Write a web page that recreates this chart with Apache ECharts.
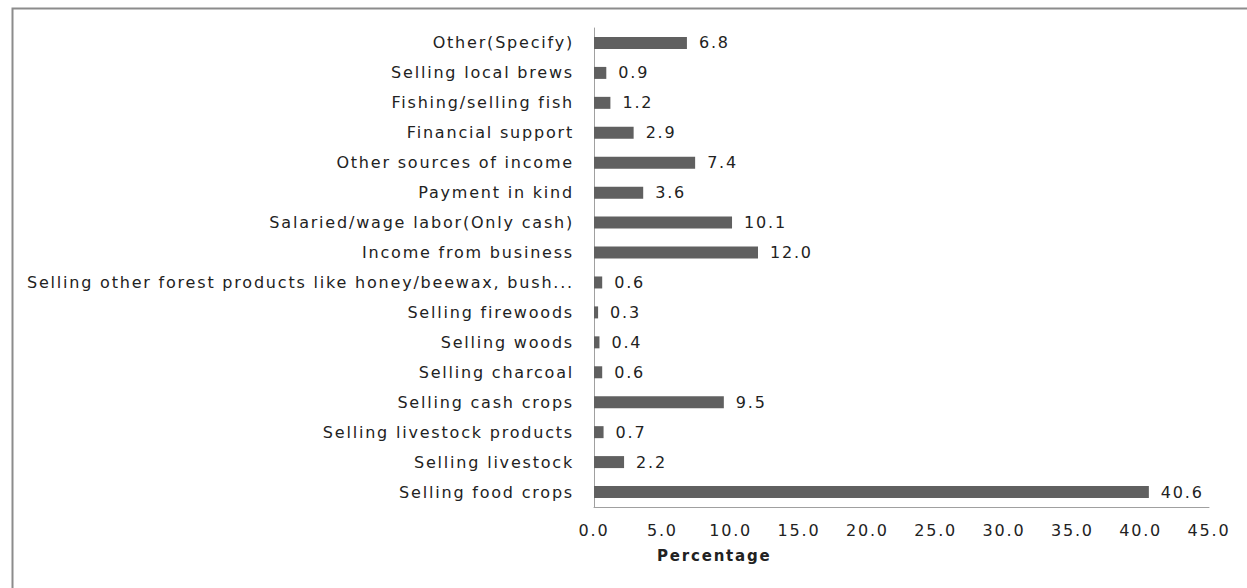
<!DOCTYPE html>
<html>
<head>
<meta charset="utf-8">
<script src="https://cdn.jsdelivr.net/npm/echarts@6/dist/echarts.min.js"></script>
<style>
html,body{margin:0;padding:0;background:#fff;}
#c{width:1247px;height:588px;}
#c text{letter-spacing:1.8px;}
</style>
</head>
<body>
<div id="c"></div>
<script>
const categories = [
  "Selling food crops",
  "Selling livestock",
  "Selling livestock products",
  "Selling cash crops",
  "Selling charcoal",
  "Selling woods",
  "Selling firewoods",
  "Selling other forest products like honey/beewax, bush...",
  "Income from business",
  "Salaried/wage labor(Only cash)",
  "Payment in kind",
  "Other sources of income",
  "Financial support",
  "Fishing/selling fish",
  "Selling local brews",
  "Other(Specify)"
];
const values = [40.6, 2.2, 0.7, 9.5, 0.6, 0.4, 0.3, 0.6, 12.0, 10.1, 3.6, 7.4, 2.9, 1.2, 0.9, 6.8];
const axisTitle = "Percentage";

const FONT = "DejaVu Sans";
const chart = echarts.init(document.getElementById('c'), null, {renderer: 'svg'});
chart.setOption({
  animation: false,
  backgroundColor: '#fff',
  grid: {left: 594, right: 38, top: 28, bottom: 81, containLabel: false},
  xAxis: {
    type: 'value', min: 0, max: 45, interval: 5,
    axisLine: {show: true, lineStyle: {color: '#a0a0a0', width: 1}},
    axisTick: {show: false},
    splitLine: {show: false},
    axisLabel: {margin: 15, color: '#222', fontFamily: FONT, fontSize: 16,
      formatter: v => v.toFixed(1)}
  },
  yAxis: {
    type: 'category', data: categories,
    axisLine: {show: true, lineStyle: {color: '#a0a0a0', width: 1}},
    axisTick: {show: false},
    axisLabel: {margin: 20, color: '#222', fontFamily: FONT, fontSize: 16}
  },
  series: [{
    type: 'bar', data: values, barWidth: 12,
    itemStyle: {color: '#606060'},
    label: {show: true, position: 'right', distance: 12, color: '#222',
      fontFamily: FONT, fontSize: 16, formatter: p => p.value.toFixed(1)}
  }],
  graphic: [
    {type: 'rect', shape: {x: 12.5, y: 8.5, width: 1300, height: 700},
      style: {fill: null, stroke: '#8c8c8c', lineWidth: 2}, silent: true},
    {type: 'text', left: 657, top: 548,
      style: {text: axisTitle, fontFamily: FONT, fontSize: 15, fontWeight: 'bold', fill: '#222'}}
  ]
});
</script>
</body>
</html>
